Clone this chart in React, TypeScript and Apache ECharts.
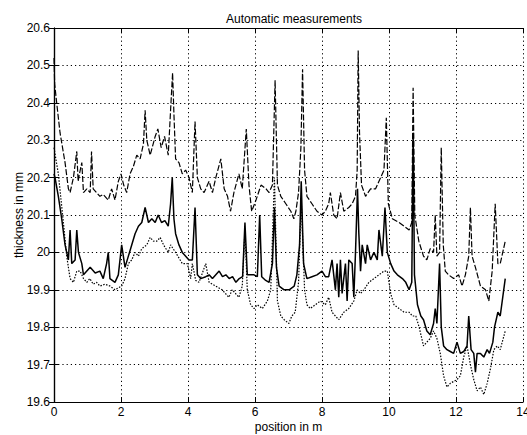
import React, { useEffect, useRef } from "react";
import * as echarts from "echarts";

const titleText = "Automatic measurements";
const xName = "position in m";
const yName = "thickness in mm";

// upper curve (dashed)
const upper: [number, number][] = [
  [0, 20.52], [0.02, 20.45], [0.08, 20.4], [0.18, 20.32], [0.33, 20.24], [0.43, 20.17], [0.48, 20.16],
  [0.58, 20.2], [0.68, 20.27], [0.72, 20.19], [0.76, 20.21], [0.83, 20.24], [0.88, 20.16], [0.98, 20.17],
  [1.08, 20.16], [1.12, 20.27], [1.17, 20.17], [1.27, 20.16], [1.37, 20.15], [1.47, 20.155], [1.62, 20.14],
  [1.72, 20.17], [1.82, 20.14], [1.92, 20.19], [2.0, 20.21], [2.08, 20.18], [2.17, 20.16], [2.27, 20.21],
  [2.37, 20.23], [2.47, 20.26], [2.57, 20.25], [2.67, 20.29], [2.72, 20.38], [2.77, 20.3], [2.87, 20.26],
  [3.02, 20.31], [3.1, 20.33], [3.2, 20.28], [3.3, 20.31], [3.41, 20.26], [3.48, 20.38], [3.54, 20.48],
  [3.58, 20.37], [3.63, 20.25], [3.73, 20.24], [3.83, 20.21], [3.93, 20.22], [4.03, 20.2], [4.13, 20.16],
  [4.21, 20.35], [4.28, 20.2], [4.38, 20.17], [4.48, 20.16], [4.63, 20.19], [4.73, 20.16], [4.83, 20.2],
  [4.98, 20.25], [5.08, 20.17], [5.18, 20.15], [5.27, 20.11], [5.37, 20.16], [5.52, 20.21], [5.62, 20.17],
  [5.74, 20.33], [5.82, 20.18], [5.9, 20.11], [6.03, 20.14], [6.18, 20.18], [6.33, 20.17], [6.42, 20.16],
  [6.52, 20.18], [6.6, 20.46], [6.67, 20.18], [6.77, 20.15], [6.92, 20.13], [7.07, 20.11], [7.16, 20.09],
  [7.22, 20.11], [7.3, 20.16], [7.37, 20.28], [7.42, 20.49], [7.48, 20.22], [7.55, 20.15], [7.7, 20.13],
  [7.85, 20.11], [8.0, 20.1], [8.1, 20.11], [8.2, 20.13], [8.25, 20.16], [8.35, 20.1], [8.45, 20.09],
  [8.55, 20.16], [8.65, 20.11], [8.8, 20.12], [8.9, 20.13], [9.0, 20.15], [9.05, 20.22], [9.08, 20.54],
  [9.12, 20.32], [9.18, 20.18], [9.3, 20.15], [9.45, 20.17], [9.6, 20.17], [9.75, 20.2], [9.85, 20.22],
  [9.92, 20.36], [9.98, 20.13], [10.1, 20.09], [10.3, 20.08], [10.45, 20.07], [10.6, 20.06], [10.68, 20.08],
  [10.72, 20.44], [10.77, 20.1], [10.89, 20.03], [11.03, 19.99], [11.13, 19.98], [11.23, 20.01], [11.33, 20.0],
  [11.38, 20.1], [11.43, 19.99], [11.51, 20.0], [11.56, 20.28], [11.62, 20.02], [11.68, 19.95], [11.78, 19.94],
  [11.93, 19.93], [12.08, 19.94], [12.18, 19.91], [12.28, 19.94], [12.38, 19.99], [12.43, 20.12], [12.48, 19.99],
  [12.58, 19.96], [12.73, 19.91], [12.88, 19.9], [12.98, 19.87], [13.08, 19.95], [13.17, 20.13], [13.25, 19.97],
  [13.32, 19.97], [13.47, 20.03],
];

// middle curve (solid)
const middle: [number, number][] = [
  [0, 20.21], [0.03, 20.2], [0.13, 20.15], [0.23, 20.09], [0.33, 20.02], [0.43, 19.98], [0.48, 20.06],
  [0.53, 19.97], [0.63, 19.98], [0.68, 20.06], [0.73, 20.0], [0.83, 19.97], [0.88, 19.94], [0.98, 19.95],
  [1.08, 19.96], [1.23, 19.945], [1.37, 19.95], [1.47, 19.93], [1.57, 19.97], [1.62, 20.0], [1.67, 19.93],
  [1.82, 19.92], [1.92, 19.94], [2.02, 20.02], [2.12, 19.96], [2.22, 19.99], [2.32, 20.02], [2.42, 20.05],
  [2.52, 20.07], [2.62, 20.08], [2.72, 20.12], [2.82, 20.08], [2.92, 20.09], [3.02, 20.08], [3.11, 20.1],
  [3.21, 20.08], [3.31, 20.085], [3.41, 20.07], [3.48, 20.13], [3.53, 20.2], [3.58, 20.09], [3.63, 20.05],
  [3.73, 20.02], [3.83, 20.0], [3.93, 19.99], [4.03, 19.98], [4.13, 19.98], [4.21, 20.12], [4.28, 19.94],
  [4.38, 19.93], [4.53, 19.935], [4.63, 19.94], [4.73, 19.93], [4.83, 19.94], [4.93, 19.95], [5.03, 19.935],
  [5.13, 19.94], [5.23, 19.93], [5.33, 19.935], [5.43, 19.92], [5.53, 19.93], [5.63, 19.935], [5.7, 20.08],
  [5.77, 19.94], [5.87, 19.94], [5.97, 19.94], [6.07, 19.935], [6.14, 20.1], [6.2, 19.935], [6.32, 19.925],
  [6.42, 19.92], [6.52, 19.97], [6.58, 20.12], [6.64, 19.96], [6.72, 19.91], [6.87, 19.9], [7.02, 19.9],
  [7.17, 19.91], [7.25, 19.94], [7.33, 20.02], [7.38, 20.19], [7.45, 19.97], [7.55, 19.93], [7.7, 19.935],
  [7.85, 19.94], [8.0, 19.95], [8.1, 19.935], [8.2, 19.935], [8.3, 19.98], [8.4, 19.9], [8.45, 19.97],
  [8.5, 19.88], [8.55, 19.98], [8.6, 19.89], [8.7, 19.97], [8.75, 19.87], [8.8, 19.98], [8.9, 19.97],
  [8.95, 19.88], [9.0, 20.0], [9.06, 20.17], [9.1, 20.05], [9.15, 19.95], [9.2, 20.02], [9.3, 19.97],
  [9.35, 20.02], [9.45, 19.98], [9.55, 20.0], [9.65, 19.98], [9.7, 20.06], [9.8, 19.99], [9.88, 20.12],
  [9.95, 20.0], [10.05, 19.97], [10.15, 19.95], [10.25, 19.94], [10.4, 19.93], [10.5, 19.92], [10.6, 19.9],
  [10.68, 19.92], [10.72, 20.32], [10.76, 19.94], [10.85, 19.86], [10.95, 19.83], [11.03, 19.82], [11.13, 19.79],
  [11.23, 19.78], [11.33, 19.81], [11.38, 19.85], [11.43, 19.81], [11.51, 19.97], [11.56, 19.8], [11.63, 19.75],
  [11.73, 19.74], [11.83, 19.735], [11.93, 19.73], [12.03, 19.76], [12.13, 19.73], [12.23, 19.735], [12.33, 19.75],
  [12.38, 19.83], [12.45, 19.74], [12.53, 19.73], [12.58, 19.68], [12.63, 19.73], [12.73, 19.73], [12.83, 19.72],
  [12.93, 19.74], [13.0, 19.73], [13.1, 19.76], [13.15, 19.8], [13.25, 19.84], [13.32, 19.83], [13.47, 19.93],
];

// lower curve (dotted)
const lower: [number, number][] = [
  [0, 20.28], [0.13, 20.21], [0.28, 20.08], [0.38, 19.99], [0.48, 19.93], [0.58, 19.92], [0.68, 19.95],
  [0.78, 19.95], [0.88, 19.93], [0.98, 19.92], [1.07, 19.93], [1.17, 19.915], [1.27, 19.92], [1.37, 19.91],
  [1.52, 19.915], [1.67, 19.91], [1.82, 19.9], [1.92, 19.905], [2.02, 19.91], [2.12, 19.93], [2.22, 19.97],
  [2.32, 19.98], [2.42, 20.0], [2.52, 19.99], [2.62, 20.01], [2.77, 20.02], [2.87, 20.04], [2.97, 20.03],
  [3.07, 20.03], [3.17, 20.04], [3.27, 20.02], [3.41, 20.0], [3.48, 20.02], [3.63, 20.0], [3.83, 19.97],
  [3.98, 19.97], [4.08, 19.93], [4.13, 19.97], [4.23, 19.925], [4.33, 19.92], [4.53, 19.97], [4.63, 19.92],
  [4.83, 19.91], [5.02, 19.9], [5.12, 19.89], [5.22, 19.88], [5.32, 19.9], [5.42, 19.89], [5.52, 19.88],
  [5.62, 19.91], [5.7, 20.06], [5.77, 19.9], [5.87, 19.86], [5.97, 19.85], [6.07, 19.86], [6.22, 19.85],
  [6.37, 19.87], [6.47, 19.9], [6.58, 20.2], [6.67, 19.87], [6.77, 19.83], [6.87, 19.82], [7.01, 19.81],
  [7.1, 19.83], [7.2, 19.84], [7.3, 19.92], [7.38, 20.14], [7.48, 19.9], [7.55, 19.86], [7.65, 19.85],
  [7.8, 19.86], [7.95, 19.87], [8.1, 19.86], [8.2, 19.88], [8.3, 19.84], [8.4, 19.83], [8.5, 19.82],
  [8.65, 19.84], [8.8, 19.85], [8.95, 19.87], [9.05, 19.9], [9.15, 19.89], [9.25, 19.9], [9.4, 19.92],
  [9.55, 19.93], [9.7, 19.94], [9.85, 19.95], [9.95, 19.95], [10.05, 19.89], [10.15, 19.86], [10.3, 19.85],
  [10.45, 19.84], [10.6, 19.84], [10.7, 19.83], [10.8, 19.83], [10.9, 19.8], [11.03, 19.75], [11.13, 19.76],
  [11.23, 19.77], [11.33, 19.79], [11.43, 19.77], [11.53, 19.73], [11.63, 19.67], [11.73, 19.64], [11.83, 19.65],
  [11.93, 19.655], [12.03, 19.66], [12.13, 19.67], [12.23, 19.72], [12.33, 19.75], [12.43, 19.7], [12.53, 19.66],
  [12.63, 19.63], [12.73, 19.64], [12.83, 19.62], [12.93, 19.65], [13.03, 19.69], [13.13, 19.74], [13.23, 19.75],
  [13.32, 19.74], [13.47, 19.79],
];

const FONT = "'Liberation Sans', Arial, Helvetica, sans-serif";

export default function App() {
  const ref = useRef<HTMLDivElement>(null);
  useEffect(() => {
    document.body.style.margin = "0";
    if (!ref.current) return;
    const chart = echarts.init(ref.current, undefined, { renderer: "svg" });
    const axisLine = { show: true, lineStyle: { color: "#000", width: 1.2 } };
    const tick = { show: true, inside: true, length: 5, lineStyle: { color: "#000" } };
    const split = { show: true, lineStyle: { color: "#000", width: 1, type: [1.2, 3] as any } };
    const label = { color: "#000", fontSize: 12, fontFamily: FONT };
    chart.setOption({
      animation: false,
      backgroundColor: "#fff",
      title: {
        text: titleText,
        left: 289,
        top: 8,
        textAlign: "center",
        textStyle: { fontSize: 12, fontWeight: "normal", color: "#000", fontFamily: FONT },
      },
      grid: { left: 54, right: 4, top: 28, bottom: 33, containLabel: false, outerBoundsMode: "none" } as any,
      xAxis: [
        {
          type: "value", min: 0, max: 14, interval: 2, position: "bottom",
          axisLine, axisTick: tick, splitLine: split,
          axisLabel: { ...label, margin: 4, hideOverlap: false },
          name: xName, nameLocation: "middle", nameGap: 19, nameMoveOverlap: false,
          nameTextStyle: { color: "#000", fontSize: 12, fontFamily: FONT },
        },
        {
          type: "value", min: 0, max: 14, interval: 2, position: "top",
          axisLine, axisTick: tick, splitLine: { show: false }, axisLabel: { show: false },
        },
      ],
      yAxis: [
        {
          type: "value", min: 19.6, max: 20.6, interval: 0.1, position: "left",
          axisLine, axisTick: tick, splitLine: split,
          axisLabel: { ...label, margin: 4, formatter: (v: number) => String(Math.round(v * 10) / 10) },
          name: yName, nameLocation: "middle", nameGap: 29, nameMoveOverlap: false,
          nameTextStyle: { color: "#000", fontSize: 12, fontFamily: FONT },
        },
        {
          type: "value", min: 19.6, max: 20.6, interval: 0.1, position: "right",
          axisLine, axisTick: tick, splitLine: { show: false }, axisLabel: { show: false },
        },
      ],
      series: [
        {
          type: "line", data: upper, showSymbol: false, symbol: "none",
          lineStyle: { color: "#000", width: 1.2, type: [6, 2] },
        },
        {
          type: "line", data: middle, showSymbol: false, symbol: "none",
          lineStyle: { color: "#000", width: 1.5 },
        },
        {
          type: "line", data: lower, showSymbol: false, symbol: "none",
          lineStyle: { color: "#000", width: 1.2, type: [1.5, 1.5] },
        },
      ],
    } as any);
    return () => chart.dispose();
  }, []);
  return (
    <div
      ref={ref}
      style={{ position: "fixed", left: 0, top: 0, width: 527, height: 435 }}
    />
  );
}
